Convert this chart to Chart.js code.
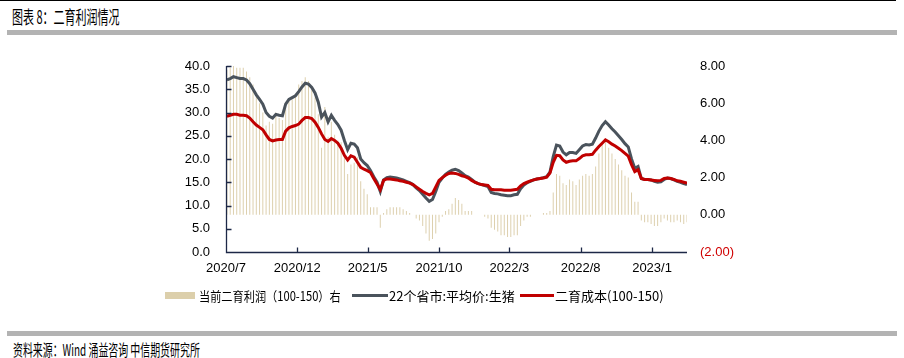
<!DOCTYPE html>
<html lang="zh">
<head>
<meta charset="utf-8">
<script src="https://cdn.jsdelivr.net/npm/chart.js@4.4.1/dist/chart.umd.min.js"></script>
<style>
  html, body { margin: 0; padding: 0; background: #fff; }
  body { width: 904px; height: 358px; position: relative; overflow: hidden; font-family: "Noto Sans CJK SC", sans-serif; color: #000; }
  .linha-topo { position: absolute; left: 0; top: 0; width: 896px; height: 1px; background: #000; }
  .faixa { position: absolute; left: 7px; width: 890px; height: 5px; background: #b3b3b3; }
  .titulo { position: absolute; left: 12px; top: 3px; font-size: 18px; white-space: nowrap; transform: scaleX(0.61); transform-origin: left top; }
  .fonte { position: absolute; left: 13px; top: 337px; font-size: 16px; white-space: nowrap; transform: scaleX(0.62); transform-origin: left top; }
  #grafico { position: absolute; left: 0; top: 40px; }
  .leg { position: absolute; top: 288px; font-size: 13px; white-space: nowrap; line-height: 16px; }
  .caixa { position: absolute; }
</style>
</head>
<body>
<div class="linha-topo"></div>
<div class="titulo">图表 8：二育利润情况</div>
<div class="faixa" style="top:30px"></div>
<canvas id="grafico" width="904" height="250"></canvas>

<div class="caixa" style="left:165px; top:292px; width:30px; height:7px; background:#dccfab"></div>
<div class="leg" style="left:199px; transform:scaleX(0.86); transform-origin:left top">当前二育利润（100-150）右</div>
<div class="caixa" style="left:352px; top:294px; width:36px; height:3px; background:#4a535c"></div>
<div class="leg" style="left:389px">22个省市:平均价:生猪</div>
<div class="caixa" style="left:520px; top:294px; width:34px; height:3px; background:#c00000"></div>
<div class="leg" style="left:555px">二育成本(100-150)</div>

<div class="faixa" style="top:331px"></div>
<div class="fonte">资料来源：Wind 涌益咨询 中信期货研究所</div>

<script>
// semanas a partir de 2020-07-03
const inicio = Date.UTC(2020, 6, 1);
const primeiraSemana = Date.UTC(2020, 6, 3);

const rotulosX = ['2020/7', '2020/12', '2021/5', '2021/10', '2022/3', '2022/8', '2023/1'];

// 22个省市:平均价:生猪 (元/kg)
const preco = [
  37.0, 37.3, 37.7, 37.5, 37.3, 37.3, 37.0, 36.2, 35.0, 33.8,
  32.8, 31.8, 30.0, 29.2, 28.8, 29.6, 29.4, 29.3, 31.8, 32.8,
  33.2, 33.6, 34.5, 35.5, 36.3, 36.1, 35.4, 34.2, 32.2, 29.0,
  30.0, 28.0, 29.4, 28.3, 27.4, 26.2, 24.0, 22.0, 23.4, 23.2,
  22.4, 20.0, 19.2, 18.6, 17.5, 16.2, 15.0, 13.0, 15.5, 16.0,
  16.1, 16.0, 15.9, 15.7, 15.5, 15.2, 14.9, 14.5, 13.8, 13.2,
  12.4, 11.6, 10.9, 11.3, 13.0, 15.0, 15.9, 16.7, 17.2, 17.6,
  17.8, 17.5, 17.0, 16.4, 16.1, 15.6, 15.0, 14.7, 14.5, 14.3,
  14.1, 12.8, 12.6, 12.5, 12.3, 12.2, 12.1, 12.1, 12.3, 12.4,
  13.6, 14.4, 14.9, 15.2, 15.5, 15.7, 15.8, 16.0, 16.2, 17.2,
  20.5, 23.0, 22.8, 21.5, 20.9, 21.4, 21.4, 21.2, 22.0, 22.8,
  23.1, 23.0, 23.2, 24.5, 26.0, 27.2, 28.0, 27.3, 26.5, 25.8,
  25.0, 24.2, 23.3, 22.6, 20.0, 18.0, 18.4, 15.8, 15.6, 15.6,
  15.5, 15.2, 15.0, 15.1, 15.6, 15.9, 15.8, 15.5, 15.2, 15.0,
  14.7, 14.5
];

// 二育成本(100-150)
const custo = [
  29.2, 29.4, 29.6, 29.6, 29.4, 29.4, 29.3, 28.8, 28.0, 27.3,
  26.8, 26.3, 25.2, 24.2, 23.9, 24.1, 24.2, 24.2, 26.0, 26.7,
  27.0, 27.2, 27.5, 28.3, 28.9, 28.9, 28.7, 27.9, 26.8, 25.4,
  24.2, 23.8, 24.4, 24.0, 23.4, 22.3, 20.8, 19.8, 20.7, 20.4,
  19.3, 18.2, 17.8, 17.5, 17.1, 15.8, 14.6, 13.4, 15.4, 15.7,
  15.7, 15.6, 15.5, 15.3, 15.2, 15.0, 14.8, 14.5, 14.0, 13.5,
  13.0, 12.6, 12.3, 12.6, 14.0, 15.4, 16.0, 16.5, 16.9, 17.0,
  16.9, 16.7, 16.4, 16.2, 15.9, 15.4, 15.0, 14.7, 14.5, 14.4,
  14.3, 13.5, 13.4, 13.4, 13.4, 13.3, 13.3, 13.3, 13.4, 13.5,
  14.2, 14.7, 15.0, 15.3, 15.5, 15.7, 15.8, 15.9, 16.1, 17.0,
  19.3, 20.8, 20.7, 19.8, 19.3, 19.5, 19.6, 19.6, 20.1, 20.7,
  20.9, 20.9, 21.0, 21.9, 22.7, 23.4, 24.1, 23.7, 23.2, 22.8,
  22.3, 21.8, 21.2, 20.6, 18.8, 17.3, 17.7, 15.8, 15.6, 15.6,
  15.5, 15.4, 15.3, 15.4, 15.8, 15.9, 15.8, 15.6, 15.3, 15.2,
  15.0, 14.8
];

// 当前二育利润(100-150) 右轴
const lucro = [
  7.8, 7.9, 8.0, 7.9, 7.9, 7.9, 7.7, 7.4, 7.0, 6.5,
  6.0, 5.5, 4.8, 5.0, 4.9, 5.5, 5.2, 5.1, 5.8, 6.1,
  6.2, 6.4, 7.0, 7.2, 7.4, 7.2, 6.7, 6.3, 5.4, 3.6,
  5.8, 4.2, 5.0, 4.3, 4.0, 3.9, 3.2, 2.2, 2.7, 2.8,
  3.1, 1.8, 1.4, 1.1, 0.4, 0.4, 0.4, -0.7, 0.1, 0.3,
  0.4, 0.4, 0.4, 0.4, 0.3, 0.2, 0.1, 0.0, -0.2, -0.3,
  -0.6, -1.0, -1.4, -1.3, -1.0, -0.4, -0.1, 0.2, 0.3, 0.6,
  0.9, 0.8, 0.6, 0.2, 0.2, 0.2, 0.0, 0.0, 0.0, -0.1,
  -0.2, -0.7, -0.8, -0.9, -1.1, -1.1, -1.2, -1.2, -1.1, -1.1,
  -0.6, -0.3, -0.1, -0.1, 0.0, 0.0, 0.0, 0.1, 0.1, 0.2,
  1.2, 2.2, 2.1, 1.7, 1.6, 1.9, 1.8, 1.6, 1.9, 2.1,
  2.2, 2.1, 2.2, 2.6, 3.3, 3.8, 3.9, 3.6, 3.3, 3.0,
  2.7, 2.4, 2.1, 2.0, 1.2, 0.7, 0.7, -0.3, -0.4, -0.4,
  -0.5, -0.6, -0.6, -0.4, -0.2, -0.3, -0.4, -0.4, -0.3, -0.4,
  -0.5, -0.4
];

const corEixo = '#1d2847';
const corCinza = '#4a535c';
const corVermelho = '#c00000';
const corBarra = '#ddd0ae';

const DIA = 86400000;
const diaDaSemana = i => (primeiraSemana - inicio) / DIA + 7 * i;
const diaDoRotulo = r => {
  const [a, m] = r.split('/').map(Number);
  return (Date.UTC(a, m - 1, 1) - inicio) / DIA;
};
const pontos = serie => serie.map((v, i) => ({ x: diaDaSemana(i), y: v }));

// eixos e marcas para dentro, como no original
const eixosInternos = {
  id: 'eixosInternos',
  afterDraw(chart) {
    const { ctx, chartArea, scales } = chart;
    const esq = Math.round(chartArea.left) + 0.5;
    const base = Math.round(chartArea.bottom) + 0.5;
    ctx.save();
    ctx.strokeStyle = corEixo;
    ctx.lineWidth = 1.3;
    ctx.beginPath();
    ctx.moveTo(esq, Math.round(chartArea.top));
    ctx.lineTo(esq, base);
    ctx.lineTo(Math.round(chartArea.right), base);
    scales.y.ticks.forEach((t, i) => {
      const py = Math.round(scales.y.getPixelForTick(i)) + 0.5;
      ctx.moveTo(esq, py);
      ctx.lineTo(esq + 5, py);
    });
    scales.x.ticks.forEach((t, i) => {
      const px = Math.round(scales.x.getPixelForTick(i)) + 0.5;
      ctx.moveTo(px, base);
      ctx.lineTo(px, base - 5);
    });
    ctx.stroke();
    ctx.restore();
  }
};

const fonteEixo = { family: 'Liberation Sans, Arial, sans-serif', size: 13 };

new Chart(document.getElementById('grafico').getContext('2d'), {
  data: {
    datasets: [
      {
        type: 'line', label: '二育成本(100-150)', data: pontos(custo), yAxisID: 'y',
        borderColor: corVermelho, borderWidth: 3, pointRadius: 0, tension: 0, order: 0
      },
      {
        type: 'line', label: '22个省市:平均价:生猪', data: pontos(preco), yAxisID: 'y',
        borderColor: corCinza, borderWidth: 3, pointRadius: 0, tension: 0, order: 1
      },
      {
        type: 'bar', label: '当前二育利润（100-150）右', data: pontos(lucro), yAxisID: 'y1',
        backgroundColor: corBarra, barThickness: 1, inflateAmount: 0, order: 2
      }
    ]
  },
  options: {
    responsive: false,
    devicePixelRatio: 1,
    animation: false,
    layout: { padding: { left: 150, right: 0, top: 26, bottom: 8 } },
    plugins: { legend: { display: false }, tooltip: { enabled: false } },
    scales: {
      x: {
        type: 'linear', position: 'bottom', offset: false,
        min: 0, max: diaDaSemana(preco.length - 1),
        grid: { display: false, drawTicks: false },
        border: { display: false },
        afterBuildTicks: s => { s.ticks = rotulosX.map(r => ({ value: diaDoRotulo(r) })); },
        afterFit: s => { s.height = 30; },
        ticks: {
          autoSkip: false, maxRotation: 0, padding: 9, color: '#000', font: fonteEixo,
          callback: (v, i) => rotulosX[i]
        }
      },
      y: {
        position: 'left', min: 0, max: 40,
        grid: { display: false, drawTicks: false },
        border: { display: false },
        afterFit: s => { s.width = 76; },
        ticks: { stepSize: 5, padding: 16, color: '#000', font: fonteEixo, callback: v => v.toFixed(1) }
      },
      y1: {
        position: 'right', min: -2, max: 8,
        grid: { display: false, drawTicks: false },
        border: { display: false },
        afterFit: s => { s.width = 217; },
        ticks: {
          stepSize: 2, padding: 13, font: fonteEixo,
          color: c => (c.tick && c.tick.value < 0 ? '#d00000' : '#000'),
          callback: v => (v < 0 ? '(' + Math.abs(v).toFixed(2) + ')' : v.toFixed(2))
        }
      }
    }
  },
  plugins: [eixosInternos]
});
</script>
</body>
</html>
